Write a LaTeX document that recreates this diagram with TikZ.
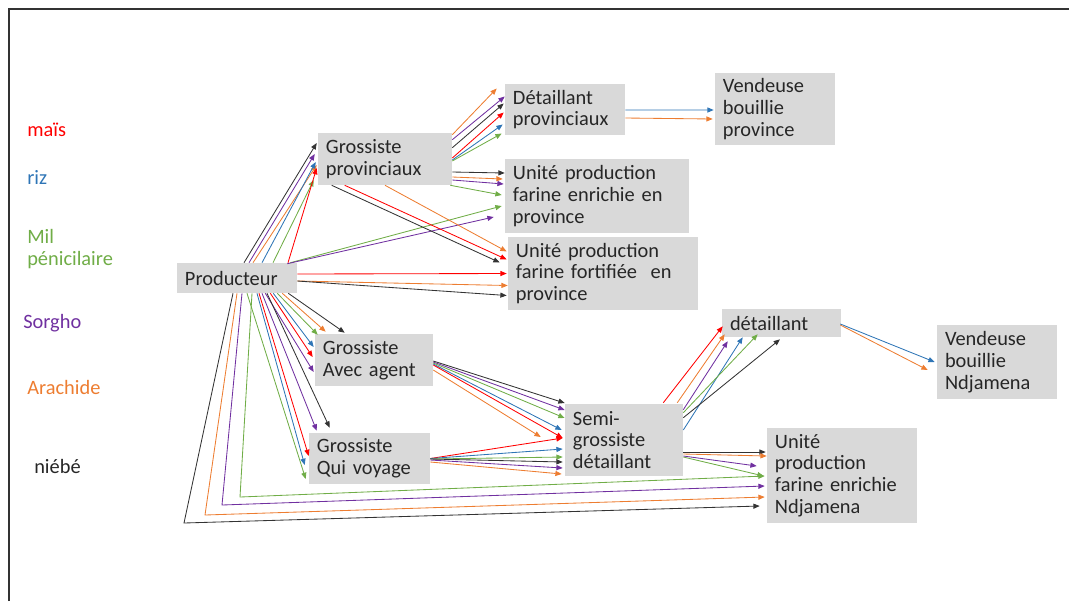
\documentclass[tikz,border=0pt]{standalone}
\usepackage{fontspec}
\setmainfont{Carlito}
\usetikzlibrary{arrows.meta}

\definecolor{maisred}{HTML}{FF0000}
\definecolor{rizblue}{HTML}{2E75B6}
\definecolor{milgreen}{HTML}{70AD47}
\definecolor{sorghopurple}{HTML}{7030A0}
\definecolor{arachideorange}{HTML}{ED7D31}
\definecolor{boxgray}{HTML}{D9D9D9}

\tikzset{
	stage/.style={fill=boxgray, inner xsep=0.2cm, inner ysep=2pt, align=left,
		font=\fontsize{14.5}{15.5}\selectfont, text=black!85},
	legend/.style={anchor=west, inner sep=0pt, align=left, font=\fontsize{14.5}{15.5}\selectfont},
	flow/.style={line width=0.6pt, -{Triangle[length=4.5pt,width=3.6pt]}},
	mais/.style={flow, draw=maisred},
	riz/.style={flow, draw=rizblue},
	mil/.style={flow, draw=milgreen},
	sorgho/.style={flow, draw=sorghopurple},
	arachide/.style={flow, draw=arachideorange},
	niebe/.style={flow, draw=black!80}
}

\begin{document}
\begin{tikzpicture}[x=0.025cm, y=-0.025cm]
	\useasboundingbox (0,0) rectangle (1069,601);
	\draw [black!80, line width=0.8pt] (9,601) -- (9,9) -- (1069,9);

	% legende
	\node[legend, text=maisred] (lmais) at (27,130) {maïs};
	\node[legend, text=rizblue] (lriz) at (27,177) {riz};
	\node[legend, text=milgreen] (lmil) at (27,249) {Mil\\pénicilaire};
	\node[legend, text=sorghopurple] (lsorgho) at (23,323) {Sorgho};
	\node[legend, text=arachideorange] (larachide) at (27,387) {Arachide};
	\node[legend, text=black!85] (lniebe) at (34,466) {niébé};

	% acteurs
	\node[stage, text width=2.6cm, minimum height=0.75cm] (prod) at (237,278) {Producteur};
	\node[stage, text width=2.95cm, minimum height=1.3cm] (gp) at (385,159) {Grossiste\\provinciaux};
	\node[stage, text width=2.6cm, minimum height=1.275cm] (dp) at (565,109.5) {Détaillant\\provinciaux};
	\node[stage, text width=2.6cm, minimum height=1.8cm] (vbp) at (775,109) {Vendeuse\\bouillie\\province};
	\node[stage, text width=4.2cm, minimum height=1.85cm] (uep) at (597,196) {Unité production\\farine enrichie en\\province};
	\node[stage, text width=4.35cm, minimum height=1.825cm] (ufp) at (603,273.5) {Unité production\\farine fortifiée\ \ en\\province};
	\node[stage, text width=2.55cm, minimum height=1.3cm] (ga) at (374,360) {Grossiste\\Avec agent};
	\node[stage, text width=2.625cm, minimum height=1.275cm] (gv) at (369.5,458.5) {Grossiste\\Qui voyage};
	\node[stage, text width=2.55cm, minimum height=1.8cm] (sg) at (624,440) {Semi-\\grossiste\\détaillant};
	\node[stage, text width=2.575cm, minimum height=0.7cm] (det) at (781.5,323) {détaillant};
	\node[stage, text width=2.6cm, minimum height=1.85cm] (vbn) at (997,362) {Vendeuse\\bouillie\\Ndjamena};
	\node[stage, text width=3.35cm, minimum height=2.375cm] (uen) at (842,475.5) {Unité\\production\\farine enrichie\\Ndjamena};

	% producteur -> grossiste provinciaux
	\draw[niebe] ([shift={(7,0)}]prod.north) -- ([shift={(-1,-16)}]gp.west);
	\draw[sorgho] ([shift={(12,0)}]prod.north) -- ([shift={(-3,-5)}]gp.west);
	\draw[arachide] ([shift={(16,0)}]prod.north) -- ([shift={(-1,6)}]gp.west);
	\draw[riz] ([shift={(25,0)}]prod.north) -- ([shift={(-2,3)}]gp.west);
	\draw[mil] ([shift={(36,0)}]prod.north) -- ([shift={(-4,21)}]gp.west);
	\draw[mais] ([shift={(51,0)}]prod.north) -- ([shift={(-1,9)}]gp.west);
	% producteur -> unites province
	\draw[mil] ([shift={(-7,0)}]prod.north east) -- ([shift={(-3,10)}]uep.west);
	\draw[sorgho] ([shift={(-10,1)}]prod.north east) -- ([shift={(-11,21)}]uep.west);
	\draw[mais] ([shift={(0,-4)}]prod.east) -- ([shift={(-1,0)}]ufp.west);
	\draw[arachide] ([shift={(0,3)}]prod.east) -- ([shift={(0,12)}]ufp.west);
	\draw[niebe] ([shift={(0,3)}]prod.east) -- ([shift={(-1,22)}]ufp.west);

	% grossiste provinciaux -> detaillant provinciaux
	\draw[arachide] ([shift={(0,2)}]gp.north east) -- ([shift={(-8,-21)}]dp.west);
	\draw[sorgho] ([shift={(0,7)}]gp.north east) -- ([shift={(0,-13)}]dp.west);
	\draw[niebe] ([shift={(0,15)}]gp.north east) -- ([shift={(-1,-6)}]dp.west);
	\draw[mais] ([shift={(0,-1)}]gp.east) -- ([shift={(-1,3)}]dp.west);
	\draw[riz] ([shift={(0,1)}]gp.east) -- ([shift={(-2,15)}]dp.west);
	\draw[mil] ([shift={(0,2)}]gp.east) -- ([shift={(-3,24)}]dp.west);
	% grossiste provinciaux -> unites province
	\draw[niebe] ([shift={(0,13)}]gp.east) -- ([shift={(0,-23)}]uep.west);
	\draw[arachide] ([shift={(0,18)}]gp.east) -- ([shift={(-2,-17)}]uep.west);
	\draw[sorgho] ([shift={(0,21)}]gp.east) -- ([shift={(-1,-12)}]uep.west);
	\draw[mil] ([shift={(-2,0)}]gp.south east) -- ([shift={(-3,-1)}]uep.west);
	\draw[niebe] ([shift={(14,0)}]gp.south west) -- ([shift={(-8,-11)}]ufp.west);
	\draw[mais] ([shift={(27,0)}]gp.south west) -- ([shift={(-1,-14)}]ufp.west);
	\draw[arachide] (gp.south) -- ([shift={(-1,-22)}]ufp.west);
	% detaillant provinciaux -> vendeuse province
	\draw[riz] ([shift={(0,0.5)}]dp.east) -- ([shift={(-1,1)}]vbp.west);
	\draw[arachide] ([shift={(0,8.5)}]dp.east) -- ([shift={(-2,10)}]vbp.west);

	% producteur -> grossiste avec agent
	\draw[niebe] ([shift={(-9,0)}]prod.south east) -- ([shift={(30,-1)}]ga.north west);
	\draw[arachide] ([shift={(-15,0)}]prod.south east) -- ([shift={(11,-2)}]ga.north west);
	\draw[mil] ([shift={(-20,0)}]prod.south east) -- ([shift={(3,1)}]ga.north west);
	\draw[riz] ([shift={(-24,0)}]prod.south east) -- ([shift={(-1,-13)}]ga.west);
	\draw[mais] ([shift={(-27,0)}]prod.south east) -- ([shift={(-2,-3)}]ga.west);
	\draw[sorgho] ([shift={(-32,0)}]prod.south east) -- ([shift={(-1,12)}]ga.west);
	% producteur -> grossiste qui voyage
	\draw[niebe] ([shift={(30,0)}]prod.south) -- ([shift={(21,-5)}]gv.north west);
	\draw[sorgho] ([shift={(25,0)}]prod.south) -- ([shift={(8,-2)}]gv.north west);
	\draw[mais] ([shift={(22,0)}]prod.south) -- ([shift={(0,-2.5)}]gv.west);
	\draw[riz] ([shift={(20,0)}]prod.south) -- ([shift={(-4,6.5)}]gv.west);
	\draw[mil] ([shift={(10,0)}]prod.south) -- ([shift={(-3,20.5)}]gv.west);
	% producteur -> unite Ndjamena
	\draw[mil] ([shift={(15,0)}]prod.south) -- (240,497) -- ([shift={(-2,0.5)}]uen.west);
	\draw[sorgho] ([shift={(5,0)}]prod.south) -- (222,505) -- ([shift={(-2,10.5)}]uen.west);
	\draw[arachide] (prod.south) -- (205,515) -- ([shift={(-2,21.5)}]uen.west);
	\draw[niebe] ([shift={(-4,0)}]prod.south) -- (184,523) -- ([shift={(-7,30.5)}]uen.west);

	% grossistes -> semi-grossiste
	\draw[niebe] ([shift={(0,1)}]ga.east) -- ([shift={(0,-37)}]sg.west);
	\draw[sorgho] ([shift={(0,2)}]ga.east) -- ([shift={(0,-30)}]sg.west);
	\draw[mil] ([shift={(0,3)}]ga.east) -- ([shift={(0,-22)}]sg.west);
	\draw[riz] ([shift={(0,4)}]ga.east) -- ([shift={(-3,-10)}]sg.west);
	\draw[mais] ([shift={(0,5)}]ga.east) -- ([shift={(-2,-2)}]sg.west);
	\draw[arachide] ([shift={(0,10)}]ga.east) -- ([shift={(-24,-3)}]sg.west);
	\draw[mais] (gv.east) -- ([shift={(-2,-2)}]sg.west);
	\draw[riz] (gv.east) -- ([shift={(-2,9)}]sg.west);
	\draw[mil] ([shift={(0,0.5)}]gv.east) -- ([shift={(-2,17)}]sg.west);
	\draw[niebe] ([shift={(0,0.5)}]gv.east) -- ([shift={(-2,22)}]sg.west);
	\draw[sorgho] ([shift={(0,1.5)}]gv.east) -- ([shift={(-2,28)}]sg.west);
	\draw[arachide] ([shift={(0,3.5)}]gv.east) -- ([shift={(-3,34)}]sg.west);

	% semi-grossiste -> detaillant
	\draw[mais] ([shift={(-20,-1)}]sg.north east) -- ([shift={(1,-11)}]det.south west);
	\draw[arachide] ([shift={(-6,-1)}]sg.north east) -- ([shift={(3,-3)}]det.south west);
	\draw[sorgho] ([shift={(0,6)}]sg.north east) -- ([shift={(6,4)}]det.south west);
	\draw[riz] ([shift={(0,-10)}]sg.east) -- ([shift={(21,0)}]det.south west);
	\draw[mil] ([shift={(0,9)}]sg.north east) -- ([shift={(36,-3)}]det.south west);
	\draw[niebe] ([shift={(0,14)}]sg.north east) -- ([shift={(-1.5,2)}]det.south);
	% detaillant -> vendeuse Ndjamena
	\draw[riz] ([shift={(-1,1)}]det.east) -- ([shift={(-2,0)}]vbn.west);
	\draw[arachide] ([shift={(-1,2)}]det.east) -- ([shift={(-9,8)}]vbn.west);
	% semi-grossiste -> unite Ndjamena
	\draw[niebe] ([shift={(0,12)}]sg.east) -- ([shift={(-1,-23.5)}]uen.west);
	\draw[arachide] ([shift={(0,14)}]sg.east) -- ([shift={(0,-19.5)}]uen.west);
	\draw[sorgho] ([shift={(0,16)}]sg.east) -- ([shift={(-10,-9.5)}]uen.west);
	\draw[mil] ([shift={(0,17)}]sg.east) -- ([shift={(-3,0.5)}]uen.west);
\end{tikzpicture}
\end{document}
